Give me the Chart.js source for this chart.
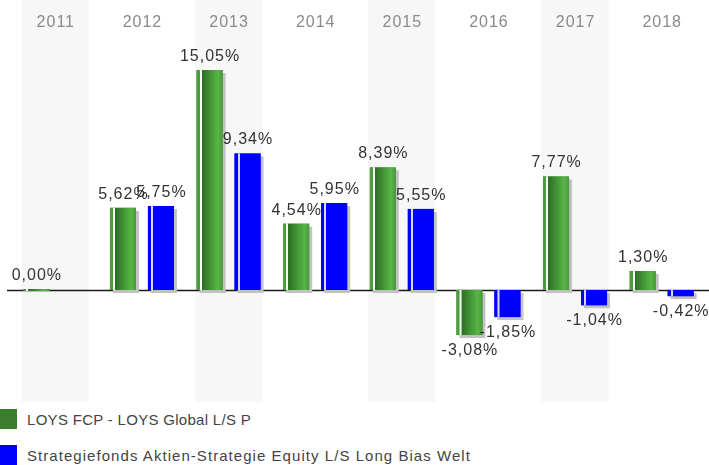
<!DOCTYPE html>
<html>
<head>
<meta charset="utf-8">
<script src="https://cdn.jsdelivr.net/npm/chart.js@4/dist/chart.umd.min.js"></script>
<style>
  html, body { margin: 0; padding: 0; background: #ffffff; }
  body { width: 709px; height: 465px; position: relative; overflow: hidden; font-family: "Liberation Sans", Arial, sans-serif; }
  #wrap { position: absolute; left: 0; top: 0; width: 709px; height: 402px; }
  #legend { position: absolute; left: 0; top: 409px; }
  .item { position: relative; height: 20px; margin-bottom: 16px; }
  .box { position: absolute; left: 0; top: 0; width: 17px; height: 20px; }
  .txt { position: absolute; left: 27px; top: 1px; font-size: 15px; line-height: 20px; color: #444; white-space: nowrap; }
</style>
</head>
<body>
<div id="wrap"><canvas id="c" width="709" height="402"></canvas></div>
<div id="legend"></div>
<script>
const years = ['2011', '2012', '2013', '2014', '2015', '2016', '2017', '2018'];
const loysValues = [0.00, 5.62, 15.05, 4.54, 8.39, -3.08, 7.77, 1.30];
const stratValues = [null, 5.75, 9.34, 5.95, 5.55, -1.85, -1.04, -0.42];
const seriesNames = ['LOYS FCP - LOYS Global L/S P', 'Strategiefonds Aktien-Strategie Equity L/S Long Bias Welt'];
const seriesColors = ['#3a7d2c', '#0000ff'];
const legendSpacing = ['0.3px', '1.05px'];

function fmt(v) { return v.toFixed(2).replace('.', ',') + '%'; }

function barRect(el) {
  const p = el.getProps(['x', 'y', 'base', 'width'], true);
  const left = p.x - p.width / 2;
  const top = Math.min(p.y, p.base);
  const bottom = Math.max(p.y, p.base);
  return { left, top, width: p.width, height: bottom - top, x: p.x, y: p.y, base: p.base };
}

const decor = {
  id: 'decor',
  beforeDatasetsDraw(chart) {
    const ctx = chart.ctx;
    const xs = chart.scales.x, ys = chart.scales.y;
    const catW = xs.width / years.length;
    ctx.save();
    ctx.fillStyle = '#f7f7f7';
    years.forEach((y, i) => {
      if (i % 2 === 0) {
        const cx = xs.getPixelForValue(i);
        const hw = catW * 0.773 / 2;
        ctx.fillRect(cx - hw, 0, hw * 2, chart.height);
      }
    });
    ctx.fillStyle = '#8a8a8a';
    ctx.font = '16px "Liberation Sans", Arial, sans-serif';
    ctx.letterSpacing = '1px';
    ctx.textAlign = 'center';
    ctx.textBaseline = 'alphabetic';
    years.forEach((y, i) => {
      ctx.fillText(y, xs.getPixelForValue(i) + 0.5, 27);
    });
    ctx.letterSpacing = '0px';
    const zy = Math.round(ys.getPixelForValue(0)) + 0.5;
    ctx.strokeStyle = '#1a1a1a';
    ctx.lineWidth = 1.3;
    ctx.beginPath();
    ctx.moveTo(7, zy);
    ctx.lineTo(chart.width, zy);
    ctx.stroke();
    ctx.fillStyle = '#c2c2c2';
    chart.data.datasets.forEach((ds, di) => {
      const meta = chart.getDatasetMeta(di);
      meta.data.forEach((el, i) => {
        if (ds.data[i] === null || ds.data[i] === 0) return;
        const r = barRect(el);
        ctx.fillRect(r.left + 3, r.top + 3, r.width, r.height);
      });
    });
    ctx.restore();
  },
  afterDatasetsDraw(chart) {
    const ctx = chart.ctx;
    ctx.save();
    chart.data.datasets.forEach((ds, di) => {
      const meta = chart.getDatasetMeta(di);
      meta.data.forEach((el, i) => {
        const v = ds.data[i];
        if (v === null) return;
        const r = barRect(el);
        let g = ctx.createLinearGradient(r.left, 0, r.left + r.width, 0);
        if (di === 0) {
          g.addColorStop(0, '#4c9c3e');
          g.addColorStop(0.115, '#4c9c3e');
          g.addColorStop(0.12, '#f4fbf2');
          g.addColorStop(0.19, '#f4fbf2');
          g.addColorStop(0.2, '#2c6e24');
          g.addColorStop(0.82, '#58b646');
          g.addColorStop(1, '#47993a');
        } else {
          g.addColorStop(0, '#0000ff');
          g.addColorStop(0.115, '#0000ff');
          g.addColorStop(0.12, '#d8d8ff');
          g.addColorStop(0.19, '#d8d8ff');
          g.addColorStop(0.2, '#0000ff');
          g.addColorStop(1, '#0000ff');
        }
        ctx.fillStyle = g;
        ctx.fillRect(r.left, r.top, r.width, r.height);
        ctx.fillStyle = '#333333';
        ctx.font = '16px "Liberation Sans", Arial, sans-serif';
        ctx.letterSpacing = '1px';
        ctx.textAlign = 'center';
        ctx.textBaseline = 'alphabetic';
        const ty = v >= 0 ? r.top - 9 : r.top + r.height + 20;
        ctx.fillText(fmt(v), r.x + 0.5, ty);
        ctx.letterSpacing = '0px';
      });
    });
    ctx.restore();
  }
};

new Chart(document.getElementById('c'), {
  type: 'bar',
  data: {
    labels: years,
    datasets: [
      { label: seriesNames[0], data: loysValues, backgroundColor: seriesColors[0], minBarLength: 2,
        categoryPercentage: 0.877, barPercentage: 0.684 },
      { label: seriesNames[1], data: stratValues, backgroundColor: seriesColors[1],
        categoryPercentage: 0.877, barPercentage: 0.684 }
    ]
  },
  options: {
    responsive: false,
    animation: false,
    layout: { padding: { left: 12, right: 4, top: 0, bottom: 0 } },
    scales: {
      x: { display: false },
      y: { display: false, min: -7.66, max: 19.84 }
    },
    plugins: { legend: { display: false }, tooltip: { enabled: false } }
  },
  plugins: [decor]
});

const legend = document.getElementById('legend');
seriesNames.forEach((n, i) => {
  const d = document.createElement('div');
  d.className = 'item';
  d.innerHTML = '<div class="box" style="background:' + seriesColors[i] + '"></div><div class="txt"></div>';
  const t = d.querySelector('.txt');
  t.textContent = n;
  t.style.letterSpacing = legendSpacing[i];
  legend.appendChild(d);
});
</script>
</body>
</html>
